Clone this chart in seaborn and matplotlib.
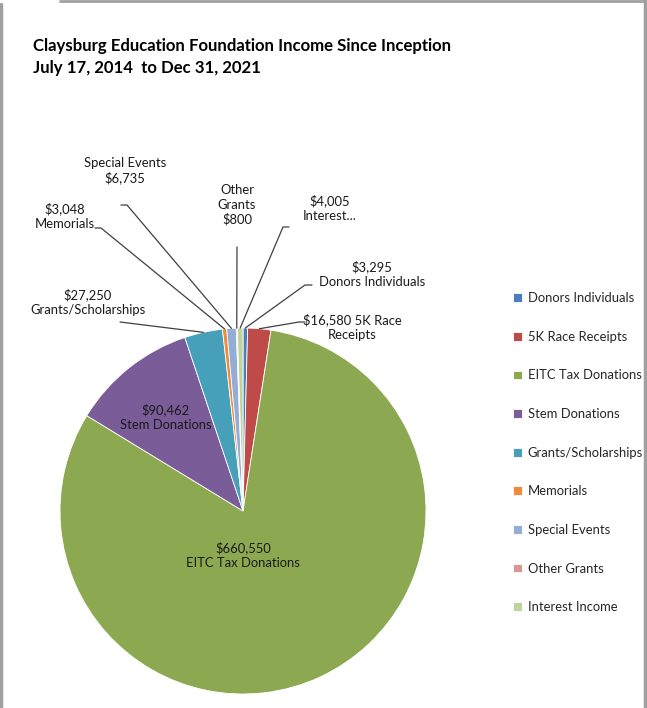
import numpy as np
import matplotlib
matplotlib.use("Agg")
import matplotlib.pyplot as plt
import seaborn as sns

categories = ["Donors Individuals", "5K Race Receipts", "EITC Tax Donations",
              "Stem Donations", "Grants/Scholarships", "Memorials",
              "Special Events", "Other Grants", "Interest Income"]
values = [3295, 16580, 660550, 90462, 27250, 3048, 6735, 800, 4005]
colors = ["#4A7EBB", "#BE4B48", "#8CA952", "#7A5C98", "#47A0BA",
          "#F08A3C", "#93AED6", "#D99594", "#BFD49A"]

# data label texts as shown in the chart
label_texts = ["$3,295\nDonors Individuals", "$16,580 5K Race\nReceipts",
               "$660,550\nEITC Tax Donations", "$90,462\nStem Donations",
               "$27,250\nGrants/Scholarships", "$3,048\nMemorials",
               "Special Events\n$6,735", "Other\nGrants\n$800",
               "$4,005\nInterest..."]

sns.set_theme(style="white")
plt.rcParams['font.family'] = ['Lato', 'DejaVu Sans']

W, H = 647, 708
fig = plt.figure(figsize=(W / 100, H / 100), dpi=100)
ax = fig.add_axes([0, 0, 1, 1])

cx, cy, r = 243, H - 511, 183
wedges, _ = ax.pie(values, colors=colors, startangle=90, counterclock=False,
                   center=(cx, cy), radius=r, frame=True,
                   wedgeprops=dict(linewidth=0.6, edgecolor="white"))
ax.set_xlim(0, W)
ax.set_ylim(0, H)
ax.set_aspect("equal")
ax.axis("off")

# middle angle of each wedge
mid = [np.deg2rad((w.theta1 + w.theta2) / 2) for w in wedges]

# label layout in pixels: (text x, text y, line start x, line start y, elbow x)
layout = {
    0: (372, 274, 312, 285, 305),
    1: (352, 327, 305, 322, 299),
    2: (243, 555, None, None, None),
    3: (166, 417, None, None, None),
    4: (88, 302, 120, 322, None),
    5: (65, 216, 95, 228, 101),
    6: (125, 171, 121, 205, 127),
    7: (237, 205, 237, 247, None),
    8: (330, 208, 289, 227, 283),
}

for i, txt in enumerate(label_texts):
    tx, ty, lx, ly, elbow = layout[i]
    ax.text(tx, H - ty, txt, ha="center", va="center", fontsize=9.4,
            color="#1a1a1a", linespacing=1.22)
    if lx is None:
        continue
    ex = cx + r * np.cos(mid[i])
    ey = cy + r * np.sin(mid[i])
    if elbow is not None:
        xs = [lx, elbow, ex]
        ys = [H - ly, H - ly, ey]
    else:
        xs = [lx, ex]
        ys = [H - ly, ey]
    ax.plot(xs, ys, color="#404040", lw=0.9)

ax.text(33, H - 57, "Claysburg Education Foundation Income Since Inception\n"
        "July 17, 2014  to Dec 31, 2021", ha="left", va="center",
        fontsize=12.1, fontweight="bold", color="black", linespacing=1.4)

leg = ax.legend(wedges, categories, loc="upper left",
                bbox_to_anchor=(508 / W, 1 - 287 / H), frameon=False,
                fontsize=9.4, labelspacing=2.04, handlelength=0.65,
                handleheight=0.65, handletextpad=0.45, borderaxespad=0)

# chart area border
ax.plot([1, 1], [0, H - 4], color="#A0A0A0", lw=2.5)
ax.plot([W - 2, W - 2], [0, H], color="#A0A0A0", lw=2.5)
ax.plot([60, W], [H - 0.8, H - 0.8], color="#A0A0A0", lw=2)

fig.savefig("out.png", dpi=100)
